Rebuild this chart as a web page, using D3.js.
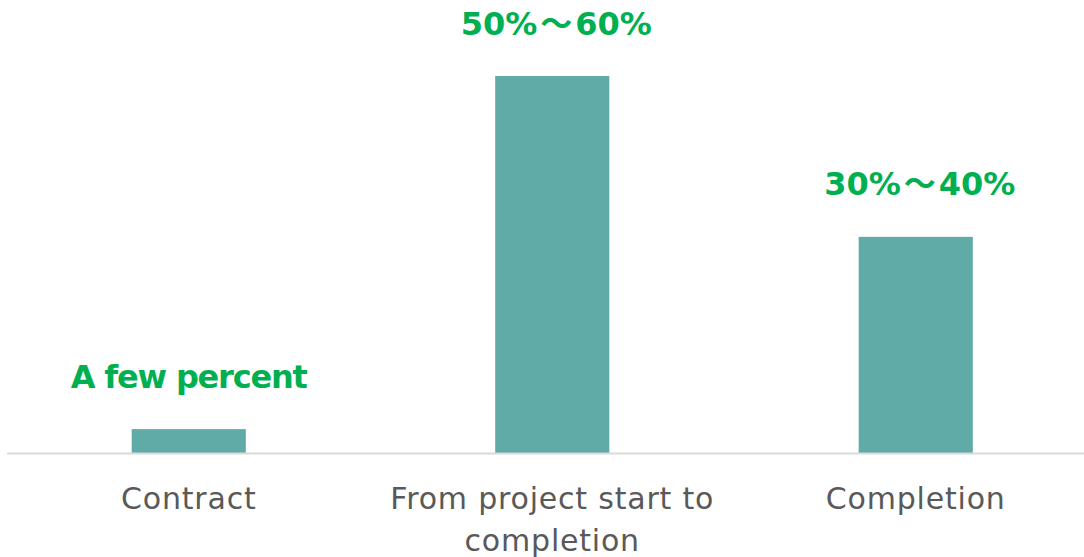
<!DOCTYPE html>
<html>
<head>
<meta charset="utf-8">
<script src="https://cdn.jsdelivr.net/npm/d3@7"></script>
<style>
  html, body { margin: 0; padding: 0; background: #fff; }
  svg { display: block; }
</style>
</head>
<body>
<svg id="chart" width="1084" height="557"></svg>
<script>
// Share of payment by project phase
const categories = ["Contract", "From project start to completion", "Completion"];
const values = [3.8, 60, 34.4];
const valueLabels = ["A few percent", "50%～60%", "30%～40%"];

const W = 1084, H = 557;
const baseY = 453;

const svg = d3.select("#chart");

const x = d3.scaleBand()
  .domain(categories)
  .range([7, 1097.5])
  .paddingInner(0.686)
  .paddingOuter(0.343);

const y = d3.scaleLinear()
  .domain([0, 60])
  .range([baseY, 76]);

// bars
svg.append("g")
  .selectAll("rect")
  .data(values)
  .join("rect")
  .attr("x", (d, i) => x(categories[i]))
  .attr("y", d => y(d))
  .attr("width", x.bandwidth())
  .attr("height", d => baseY - y(d))
  .attr("fill", "#60aba8");

// category axis
const axis = svg.append("g")
  .attr("transform", `translate(0,${baseY})`)
  .call(d3.axisBottom(x).tickSize(0).tickPadding(0));
axis.select(".domain").remove();
axis.append("line")
  .attr("x1", 7).attr("x2", W)
  .attr("y1", 0.5).attr("y2", 0.5)
  .attr("stroke", "#d9d9d9")
  .attr("stroke-width", 2);

axis.selectAll(".tick text")
  .attr("fill", "#595959")
  .attr("font-family", "'DejaVu Sans', 'Noto Sans', sans-serif")
  .attr("font-size", 30)
  .attr("letter-spacing", 0.8)
  .attr("dy", null)
  .attr("y", 56)
  .call(wrap, 345, 42);

function wrap(sel, width, lineH) {
  sel.each(function () {
    const text = d3.select(this);
    const words = text.text().split(/\s+/);
    const yy = +text.attr("y");
    text.text(null);
    let line = [];
    let tspan = text.append("tspan").attr("x", 0).attr("y", yy);
    let lineNo = 0;
    words.forEach(w => {
      line.push(w);
      tspan.text(line.join(" "));
      if (tspan.node().getComputedTextLength() > width && line.length > 1) {
        line.pop();
        tspan.text(line.join(" "));
        line = [w];
        lineNo++;
        tspan = text.append("tspan").attr("x", 0).attr("y", yy + lineNo * lineH).text(w);
      }
    });
  });
}

// value labels; ranges keep normal spacing with a little room around the wave dash
svg.append("g")
  .selectAll("text")
  .data(values)
  .join("text")
  .attr("x", (d, i) => x(categories[i]) + x.bandwidth() / 2)
  .attr("y", d => y(d) - 41.5)
  .attr("text-anchor", "middle")
  .attr("fill", "#00b050")
  .attr("font-family", "'DejaVu Sans', 'Noto Sans CJK JP', sans-serif")
  .attr("font-weight", "bold")
  .attr("font-size", 32)
  .each(function (d, i) {
    const t = d3.select(this);
    const parts = valueLabels[i].split("～");
    if (parts.length === 1) {
      t.attr("letter-spacing", -1.2).text(parts[0]);
      return;
    }
    t.append("tspan").attr("dx", 4).text(parts[0]);
    t.append("tspan").attr("dx", 3).text("～");
    t.append("tspan").attr("dx", 3).text(parts[1]);
  });
</script>
</body>
</html>
